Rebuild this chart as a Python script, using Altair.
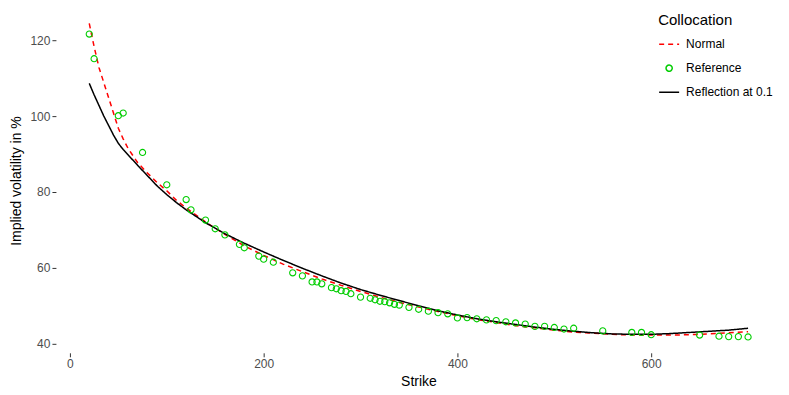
import altair as alt
import pandas as pd

# ---- data ----
series_names = ["Normal", "Reference", "Reflection at 0.1"]
series_colors = ["#FF0000", "#00CD00", "#000000"]

ref_strike = [20, 25, 50, 55, 75, 100, 120, 125, 140, 150, 160, 175, 180, 195, 200, 210,
              230, 240, 250, 255, 260, 270, 275, 280, 285, 290, 300, 310, 315, 320, 325,
              330, 335, 340, 350, 360, 370, 380, 390, 400, 410, 420, 430, 440, 450, 460,
              470, 480, 490, 500, 510, 520, 550, 580, 590, 600, 650, 670, 680, 690, 700]
ref_vol = [121.6, 115.1, 100.1, 100.8, 90.4, 81.9, 78.0, 75.3, 72.6, 70.3, 68.7, 66.2, 65.3,
           63.1, 62.3, 61.5, 58.7, 57.9, 56.3, 56.3, 55.8, 54.8, 54.5, 54.0, 53.8, 53.2,
           52.3, 52.0, 51.6, 51.2, 51.1, 50.8, 50.4, 50.2, 49.6, 49.1, 48.6, 48.2, 47.9,
           46.8, 46.9, 46.6, 46.3, 46.1, 45.8, 45.5, 45.2, 44.6, 44.6, 44.3, 43.9, 44.1,
           43.4, 43.0, 43.0, 42.4, 42.3, 42.0, 41.9, 41.9, 41.8]

curve_strike = [20, 25, 30, 35, 40, 45, 50, 55, 60, 70, 80, 90, 100, 110, 120, 140, 160, 180,
                200, 220, 240, 260, 280, 300, 320, 340, 360, 380, 400, 420, 440, 460, 480,
                500, 520, 540, 560, 580, 600, 620, 640, 660, 680, 700]
normal_vol = [124.4, 118.3, 112.8, 108.8, 104.8, 100.8, 96.8, 94.0, 91.5, 87.7, 85.0, 82.5,
              80.3, 77.8, 75.8, 72.1, 68.8, 65.8, 63.3, 61.0, 59.0, 57.1, 55.4, 53.8, 52.3,
              50.9, 49.7, 48.5, 47.4, 46.4, 45.6, 44.8, 44.2, 43.6, 43.1, 42.8, 42.5, 42.3,
              42.3, 42.3, 42.4, 42.6, 42.9, 43.2]
reflection_vol = [108.6, 105.6, 102.8, 100.0, 97.5, 95.0, 92.8, 91.2, 89.8, 87.0, 84.3, 81.6,
                  79.3, 77.2, 75.3, 71.9, 69.0, 66.5, 64.2, 62.0, 59.9, 57.9, 56.0, 54.3,
                  52.8, 51.4, 50.0, 48.7, 47.6, 46.6, 45.8, 45.1, 44.4, 43.8, 43.3, 42.9,
                  42.6, 42.5, 42.5, 42.7, 43.0, 43.3, 43.6, 44.1]

# ---- tables ----
lines_df = pd.concat([
    pd.DataFrame({"strike": curve_strike, "vol": normal_vol, "series": "Normal"}),
    pd.DataFrame({"strike": curve_strike, "vol": reflection_vol, "series": "Reflection at 0.1"}),
], ignore_index=True)
points_df = pd.DataFrame({"strike": ref_strike, "vol": ref_vol, "series": "Reference"})

x_enc = alt.X("strike:Q", title="Strike",
              scale=alt.Scale(domain=[-14.4, 734], nice=False, zero=False),
              axis=alt.Axis(values=[0, 200, 400, 600]))
y_enc = alt.Y("vol:Q", title="Implied volatility in %",
              scale=alt.Scale(domain=[37.63, 128.4], nice=False, zero=False),
              axis=alt.Axis(values=[40, 60, 80, 100, 120]))

leg = alt.Legend(title="Collocation", orient="none", legendX=603, legendY=5,
                 clipHeight=20)
color_enc = alt.Color("series:N", scale=alt.Scale(domain=series_names, range=series_colors),
                      legend=leg)

lines = alt.Chart(lines_df).mark_line(strokeWidth=1.5).encode(
    x=x_enc, y=y_enc, color=color_enc,
    strokeDash=alt.StrokeDash("series:N",
                              scale=alt.Scale(domain=series_names,
                                              range=[[5, 4], [1, 0], [1, 0]]),
                              legend=leg),
    detail="series:N",
)

points = alt.Chart(points_df).mark_point(filled=False, strokeWidth=1.1, opacity=1).encode(
    x=x_enc, y=y_enc, color=color_enc,
    shape=alt.Shape("series:N",
                    scale=alt.Scale(domain=series_names, range=["stroke", "circle", "stroke"]),
                    legend=leg),
    size=alt.Size("series:N",
                  scale=alt.Scale(type="ordinal", domain=series_names, range=[400, 38, 400]),
                  legend=leg),
)

chart = alt.layer(lines, points).properties(
    width=726, height=345,
    autosize=alt.AutoSizeParams(type="none"),
    padding={"left": 48, "top": 0, "right": 0, "bottom": 42},
).configure_view(stroke=None).configure_axis(
    grid=False, domain=False, tickColor="#333333", tickSize=4, tickWidth=1,
    labelColor="#4D4D4D", labelFontSize=12, labelFont="Liberation Sans",
    titleFont="Liberation Sans", titleFontSize=14, titleFontWeight="normal",
    titleColor="#000000", labelPadding=2,
).configure_axisX(titlePadding=5).configure_axisY(titlePadding=6).configure_legend(
    titleFont="Liberation Sans", titleFontSize=15, titleFontWeight="normal",
    titleColor="#000000", labelFont="Liberation Sans", labelFontSize=12,
    labelColor="#000000", symbolStrokeWidth=1.5, rowPadding=4, titlePadding=6,
    labelOffset=6,
)

chart.save("out.html", embed_options={"renderer": "svg", "actions": False})
